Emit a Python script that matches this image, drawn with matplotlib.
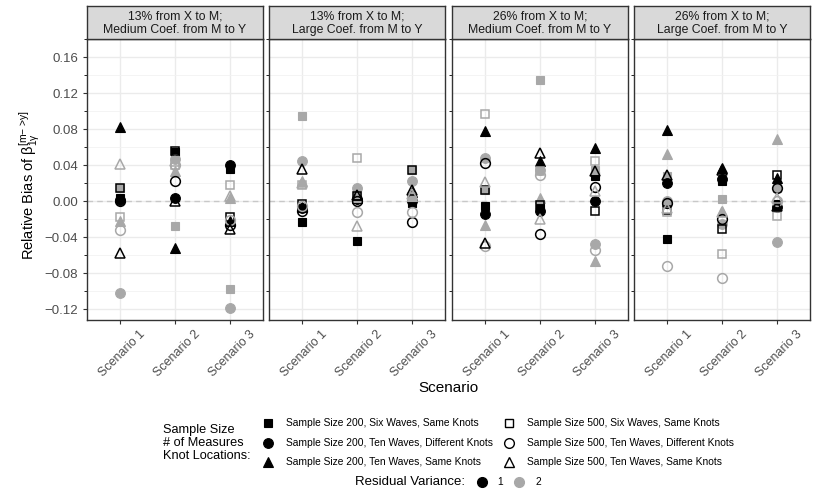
import matplotlib.pyplot as plt
import matplotlib.transforms as mtransforms
import numpy as np

plt.rcParams['font.family'] = ['Liberation Sans', 'DejaVu Sans']

# facet titles
panels = ['13% from X to M;\nMedium Coef. from M to Y',
          '13% from X to M;\nLarge Coef. from M to Y',
          '26% from X to M;\nMedium Coef. from M to Y',
          '26% from X to M;\nLarge Coef. from M to Y']
scenarios = ['Scenario 1', 'Scenario 2', 'Scenario 3']

# relative bias, one row per panel, one value per scenario
# n=200 six waves same knots (filled square)
fs_k = [[0.003, 0.054, 0.036], [-0.023, -0.044, -0.002], [-0.005, -0.008, 0.028], [-0.042, 0.022, -0.003]]
fs_g = [[0.015, -0.028, -0.098], [0.095, 0.008, 0.034], [0.012, 0.135, 0.035], [0.028, 0.002, 0.015]]
# n=200 ten waves different knots (filled circle)
fc_k = [[0.001, 0.003, 0.040], [-0.008, 0.002, 0.000], [-0.014, -0.011, 0.000], [0.020, 0.025, -0.006]]
fc_g = [[-0.102, 0.047, -0.119], [0.045, 0.015, 0.022], [0.048, 0.035, -0.048], [0.000, -0.025, -0.045]]
# n=200 ten waves same knots (filled triangle)
ft_k = [[0.082, -0.052, -0.022], [-0.006, 0.004, 0.010], [0.078, 0.045, 0.059], [0.079, 0.037, 0.026]]
ft_g = [[-0.022, 0.033, 0.003], [0.022, 0.005, 0.006], [-0.026, 0.003, -0.066], [0.052, -0.011, 0.069]]
# n=500 six waves same knots (open square)
os_k = [[0.015, 0.056, -0.018], [-0.003, 0.006, 0.034], [0.012, -0.004, -0.011], [-0.010, -0.031, 0.029]]
os_g = [[-0.018, 0.040, 0.018], [0.018, 0.048, 0.005], [0.097, 0.033, 0.044], [-0.012, -0.059, -0.017]]
# n=500 ten waves different knots (open circle)
oc_k = [[0.000, 0.022, -0.027], [-0.011, 0.000, -0.023], [0.042, -0.037, 0.016], [-0.002, -0.020, 0.015]]
oc_g = [[-0.032, 0.040, -0.021], [-0.005, -0.012, -0.012], [-0.050, 0.029, -0.054], [-0.072, -0.085, 0.000]]
# n=500 ten waves same knots (open triangle)
ot_k = [[-0.058, 0.000, -0.031], [0.036, 0.007, 0.012], [-0.047, 0.053, 0.033], [0.029, 0.035, -0.005]]
ot_g = [[0.041, 0.045, 0.006], [0.020, -0.028, 0.008], [0.021, -0.020, 0.011], [-0.008, -0.012, 0.003]]

BLACK = '#000000'
GRAY = '#A8A8A8'

series = [
    (fs_k, 's', True, BLACK), (fs_g, 's', True, GRAY),
    (fc_k, 'o', True, BLACK), (fc_g, 'o', True, GRAY),
    (ft_k, '^', True, BLACK), (ft_g, '^', True, GRAY),
    (os_k, 's', False, BLACK), (os_g, 's', False, GRAY),
    (oc_k, 'o', False, BLACK), (oc_g, 'o', False, GRAY),
    (ot_k, '^', False, BLACK), (ot_g, '^', False, GRAY),
]
msize = {'s': 6.3, 'o': 7.0, '^': 7.8}

W, H = 830, 498
fig = plt.figure(figsize=(W / 100, H / 100), dpi=100)

lefts = [87, 269, 452, 634]
pw = 176
top, bottom = 39, 320
x = np.arange(1, 4)
shift = mtransforms.ScaledTranslation(19 / 100, 1 / 100, fig.dpi_scale_trans)

for i, left in enumerate(lefts):
    ax = fig.add_axes([left / W, (H - bottom) / H, pw / W, (bottom - top) / H])
    ax.set_xlim(0.4, 3.6)
    ax.set_ylim(-0.132, 0.1744)
    ax.set_yticks(np.arange(-0.12, 0.161, 0.04))
    ax.set_yticks(np.arange(-0.10, 0.18, 0.04), minor=True)
    ax.set_xticks(x)
    ax.grid(True, which='major', color='#EBEBEB', lw=1.0)
    ax.grid(True, which='minor', axis='y', color='#F2F2F2', lw=0.6)
    ax.set_axisbelow(True)
    ax.axhline(0, color='#C8C8C8', lw=1.0, ls=(0, (4, 3)), zorder=1)
    for vals, mk, filled, col in series:
        y = [vals[i][j] for j in range(3)]
        if filled:
            ax.plot(x, y, ls='none', marker=mk, ms=msize[mk], mfc=col, mec=col, mew=0.8, zorder=3)
        else:
            ax.plot(x, y, ls='none', marker=mk, ms=msize[mk], mfc='none', mec=col, mew=1.1, zorder=3)
    for s in ax.spines.values():
        s.set_color('#333333')
        s.set_linewidth(1.0)
    ax.tick_params(colors='#333333', length=3, width=0.8, labelsize=9.5, labelcolor='#4D4D4D')
    ax.tick_params(axis='x', labelsize=9)
    ax.set_xticklabels(scenarios, rotation=45, ha='right', va='top', rotation_mode='anchor')
    for lab in ax.get_xticklabels():
        lab.set_transform(lab.get_transform() + shift)
    if i == 0:
        ax.set_yticklabels([f'{v:.2f}'.replace('-', '\u2212') if abs(v) > 1e-9 else '0.00'
                            for v in np.arange(-0.12, 0.161, 0.04)])
    else:
        ax.tick_params(axis='y', labelleft=False, length=0)
    # strip
    sax = fig.add_axes([left / W, (H - top) / H, pw / W, 33 / H])
    sax.set_facecolor('#D9D9D9')
    sax.set_xticks([])
    sax.set_yticks([])
    for s in sax.spines.values():
        s.set_color('#333333')
        s.set_linewidth(1.0)
    sax.text(0.5, 0.47, panels[i], ha='center', va='center', fontsize=8.8,
             color='#1A1A1A', linespacing=1.2, transform=sax.transAxes)

fig.text(30 / W, (H - 185) / H, r'Relative Bias of $\mathregular{\beta_{1\gamma}^{[m\!-\!>\!y]}}$',
         rotation=90, ha='center', va='center', fontsize=10.5)
fig.text(448 / W, (H - 388) / H, 'Scenario', ha='center', va='center', fontsize=11)

# legend drawn in pixel coordinates
lax = fig.add_axes([0, 0, 1, 1])
lax.set_xlim(0, W)
lax.set_ylim(H, 0)
lax.axis('off')
for ty, t in zip([430, 443, 456], ['Sample Size', '# of Measures', 'Knot Locations:']):
    lax.text(163, ty, t, ha='left', va='center', fontsize=9.2)

leg_labels = ['Sample Size 200, Six Waves, Same Knots',
              'Sample Size 200, Ten Waves, Different Knots',
              'Sample Size 200, Ten Waves, Same Knots',
              'Sample Size 500, Six Waves, Same Knots',
              'Sample Size 500, Ten Waves, Different Knots',
              'Sample Size 500, Ten Waves, Same Knots']
leg_marks = ['s', 'o', '^', 's', 'o', '^']
leg_fill = [True, True, True, False, False, False]
rows = [423, 443, 462]
for k in range(6):
    cx = 268 if k < 3 else 509
    ry = rows[k % 3]
    if leg_fill[k]:
        lax.plot([cx], [ry], ls='none', marker=leg_marks[k], ms=msize[leg_marks[k]],
                 mfc='black', mec='black', mew=0.8)
    else:
        lax.plot([cx], [ry], ls='none', marker=leg_marks[k], ms=msize[leg_marks[k]],
                 mfc='none', mec='black', mew=1.0)
    lax.text(cx + 18, ry, leg_labels[k], ha='left', va='center', fontsize=7.4)

lax.text(355, 482, 'Residual Variance:', ha='left', va='center', fontsize=9.5)
lax.plot([482], [482], ls='none', marker='o', ms=7, color=BLACK)
lax.text(500, 482, '1', ha='center', va='center', fontsize=7.4)
lax.plot([519], [482], ls='none', marker='o', ms=7, color=GRAY)
lax.text(538, 482, '2', ha='center', va='center', fontsize=7.4)

fig.savefig('out.png', dpi=100)
